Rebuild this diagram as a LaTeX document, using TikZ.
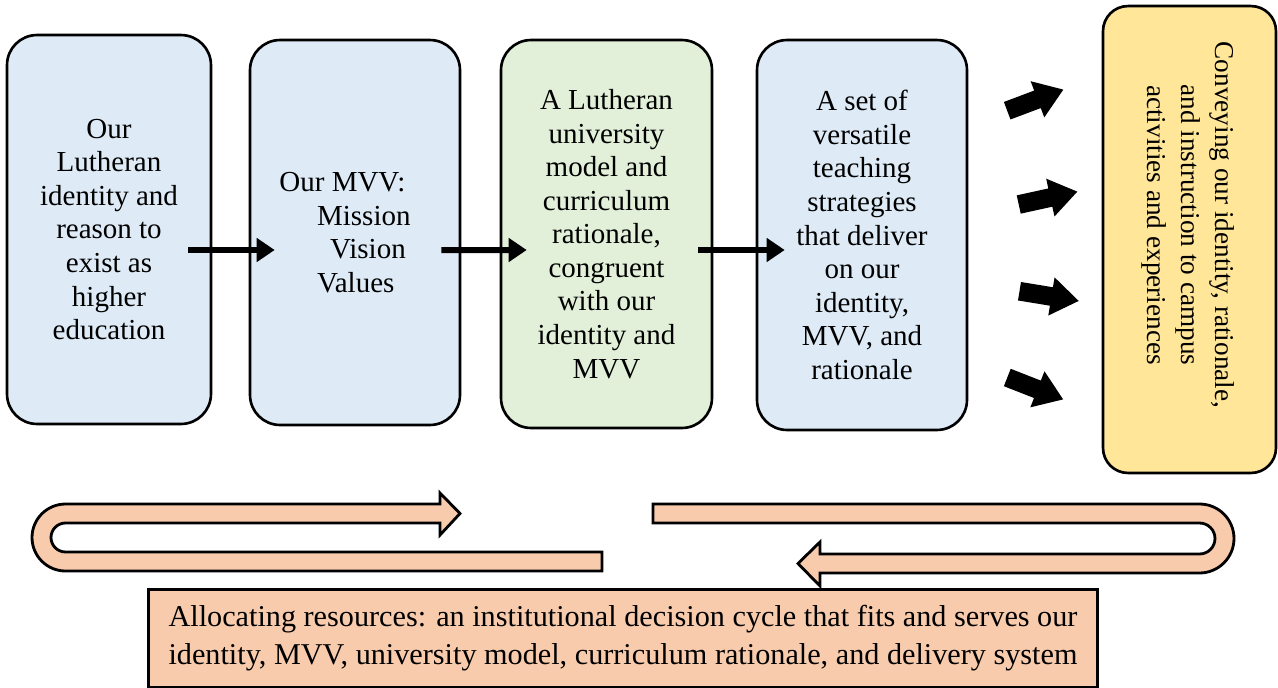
\documentclass[tikz,border=0pt]{standalone}
\usepackage{fontspec}
\setmainfont{Liberation Serif}
\usetikzlibrary{arrows.meta}
\usetikzlibrary{shapes.arrows}
\definecolor{boxblue}{HTML}{DEEBF7}
\definecolor{boxgreen}{HTML}{E2F0D9}
\definecolor{boxyellow}{HTML}{FFE699}
\definecolor{peach}{HTML}{F8CBAD}
\tikzset{
  stage/.style = {draw, line width=1.5pt, rounded corners=0.6cm, fill=boxblue,
    align=center, inner sep=0pt, font=\fontsize{16.5}{19.1}\selectfont},
  uturn/.style = {draw, fill=peach, line width=1.6pt, line join=miter},
  pointer/.style = {single arrow, fill=black, inner xsep=0pt, inner ysep=0.18cm,
    minimum height=1.2cm, single arrow head extend=0.2cm, single arrow tip angle=70},
  flow/.style = {->, line width=0.12cm}
}
\tikzset{>={Triangle[length=0.36cm,width=0.46cm]}}

\begin{document}
\begin{tikzpicture}[x=0.02cm,y=-0.02cm]
  \useasboundingbox (0,0) rectangle (1278,687);
  \node[stage, minimum width=4.08cm, minimum height=7.78cm] (identity) at (109,229.5)
    {Our\\Lutheran\\identity and\\reason to\\exist as\\higher\\education};
  \node[stage, minimum width=4.2cm, minimum height=7.7cm, align=left] (mvv) at (355,232.5)
    {Our MVV:\\\hspace*{1.3em}Mission\hspace*{0.4cm}\mbox{}\\\hspace*{1.75em}Vision\\\hspace*{1.3em}Values};
  \node[stage, fill=boxgreen, minimum width=4.22cm, minimum height=7.76cm] (model) at (606.5,234)
    {A Lutheran\\university\\model and\\curriculum\\rationale,\\congruent\\with our\\identity and\\MVV};
  \node[stage, minimum width=4.2cm, minimum height=7.8cm] (teaching) at (862,235)
    {A set of\\versatile\\teaching\\strategies\\that deliver\\on our\\identity,\\MVV, and\\rationale};
  \node[stage, fill=boxyellow, rounded corners=0.5cm, minimum width=3.46cm, minimum height=9.34cm] (conveying) at (1189.5,239.5) {};
  \node[rotate=-90, align=center, font=\fontsize{15.5}{19.1}\selectfont] (conveytext) at (1188,225)
    {Conveying our identity, rationale,\\and instruction to campus\\activities and experiences};

  \draw[flow] ([shift={(-24,20.5)}]identity.east) -- ([shift={(26,17.5)}]mvv.west);
  \draw[flow] ([shift={(-20,17.5)}]mvv.east) -- ([shift={(27,16)}]model.west);
  \draw[flow] ([shift={(-15,16)}]model.east) -- ([shift={(29,15)}]teaching.west);

  \node[pointer, rotate=20.6] (out1) at (1029,102.5) {};
  \node[pointer, rotate=12.4] (out2) at (1041.5,199.5) {};
  \node[pointer, rotate=-9.3] (out3) at (1042.5,295) {};
  \node[pointer, rotate=-21.4] (out4) at (1029,386) {};

  \draw[uturn] (602,571) -- (65.5,571) arc (270:90:0.67cm) -- (440,504) -- (440,493)
    -- (460,513.5) -- (440,535) -- (440,523) -- (65.5,523) arc (90:270:0.29cm)
    -- (602,552) -- cycle;
  \draw[uturn] (653,504) -- (1199.5,504) arc (90:-90:0.69cm) -- (820,573) -- (820,586)
    -- (798,563.5) -- (820,542) -- (820,554) -- (1199.5,554) arc (-90:90:0.31cm)
    -- (653,523) -- cycle;

  \node[draw, fill=peach, line width=1.7pt, minimum width=19cm, minimum height=1.96cm,
    align=left, font=\fontsize{17.2}{21.6}\selectfont] (resources) at (623,638)
    {Allocating resources: an institutional decision cycle that fits and serves our\\
     identity, MVV, university model, curriculum rationale, and delivery system};
\end{tikzpicture}
\end{document}
